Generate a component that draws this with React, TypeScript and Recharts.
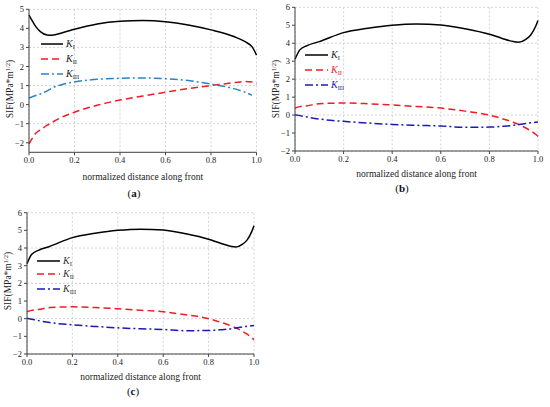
import { LineChart, Line, XAxis, YAxis, CartesianGrid } from "recharts";

// normalized position along the crack front
const xsA = [0, 0.01, 0.03, 0.05, 0.08, 0.1, 0.15, 0.2, 0.3, 0.4, 0.5, 0.6, 0.7, 0.8, 0.9, 0.95, 0.98, 1.0];
const kIA = [4.7, 4.48, 4.09, 3.83, 3.65, 3.64, 3.78, 3.95, 4.23, 4.37, 4.41, 4.35, 4.18, 3.92, 3.57, 3.3, 3.04, 2.6];
const kIIA = [-2.06, -1.85, -1.5, -1.33, -1.08, -0.94, -0.63, -0.4, -0.03, 0.24, 0.45, 0.65, 0.84, 1.0, 1.15, 1.21, 1.19, 1.08];
const kIIIA = [0.35, 0.39, 0.48, 0.56, 0.72, 0.86, 1.07, 1.19, 1.33, 1.38, 1.4, 1.36, 1.26, 1.08, 0.84, 0.65, 0.5, null];

const xsB = [0, 0.02, 0.05, 0.1, 0.2, 0.3, 0.4, 0.5, 0.6, 0.7, 0.8, 0.85, 0.9, 0.92, 0.95, 0.97, 0.99, 1.0];
const kIB = [3.11, 3.63, 3.87, 4.09, 4.59, 4.83, 5.0, 5.07, 5.02, 4.81, 4.5, 4.28, 4.09, 4.06, 4.22, 4.46, 4.93, 5.26];
const kIIB = [0.39, 0.47, 0.52, 0.63, 0.67, 0.63, 0.56, 0.48, 0.39, 0.22, 0.0, -0.19, -0.41, -0.52, -0.72, -0.88, -1.07, -1.19];
const kIIIB = [0.02, -0.03, -0.11, -0.22, -0.35, -0.44, -0.52, -0.57, -0.61, -0.68, -0.67, -0.63, -0.57, -0.53, -0.47, -0.43, -0.4, -0.39];

const xTicks = [0, 0.2, 0.4, 0.6, 0.8, 1.0];
const yTicksA = [-2, -1, 0, 1, 2, 3, 4, 5];
const yTicksB = [-2, -1, 0, 1, 2, 3, 4, 5, 6];

const serif = "Liberation Serif, Times New Roman, DejaVu Serif, serif";

const toRows = (xs: number[], a: (number | null)[], b: (number | null)[], c: (number | null)[]) =>
  xs.map((x, i) => ({ x, kI: a[i], kII: b[i], kIII: c[i] }));

const dataA = toRows(xsA, kIA, kIIA, kIIIA);
const dataB = toRows(xsB, kIB, kIIB, kIIIB);

type PanelProps = {
  left: number;
  top: number;
  width: number;
  height: number;
  margin: { top: number; right: number; bottom: number; left: number };
  yWidth: number;
  domain: [number, number];
  yTicks: number[];
  data: any[];
  colors: string[];
  textColors: string[];
  legend: { x1: number; x2: number; ys: number[] };
  yLabel: { x: number; y: number };
  xLabelY: number;
  caption: { x: number; y: number; letter: string };
};

function Panel(p: PanelProps) {
  const subs = ["I", "II", "III"];
  const dashes = [undefined, "7 4", "8 3 2 3"];
  const keys = ["kI", "kII", "kIII"];
  const plotMid = p.margin.left + p.yWidth + (p.width - p.margin.left - p.yWidth - p.margin.right) / 2;
  const tickStyle = { fill: "#222", fontSize: 8.5, fontFamily: serif, style: { fontFamily: serif } };
  return (
    <div style={{ position: "absolute", left: p.left, top: p.top, width: p.width, height: p.height }}>
      <LineChart width={p.width} height={p.height} data={p.data} margin={p.margin}>
        <CartesianGrid xAxisId="b" yAxisId="l" stroke="#c8c8c8" strokeDasharray="2 2" strokeWidth={0.8} />
        <XAxis
          xAxisId="b"
          dataKey="x"
          type="number"
          domain={[0, 1]}
          ticks={xTicks}
          tickFormatter={(v: number) => v.toFixed(1)}
          height={20}
          tickSize={3}
          tickMargin={2}
          stroke="#444"
          tick={tickStyle}
        />
        <XAxis xAxisId="t" orientation="top" dataKey="x" type="number" domain={[0, 1]} height={0} tick={false} tickLine={false} stroke="#666" />
        <YAxis
          yAxisId="l"
          type="number"
          domain={p.domain}
          ticks={p.yTicks}
          width={p.yWidth}
          tickSize={3}
          tickMargin={2}
          stroke="#444"
          tickFormatter={(v: number) => (v < 0 ? "\u2212" + Math.abs(v) : String(v))}
          tick={tickStyle}
        />
        <YAxis yAxisId="r" orientation="right" type="number" domain={p.domain} width={0} tick={false} tickLine={false} stroke="#666" />
        {keys.map((k, i) => (
          <Line
            key={k}
            xAxisId="b"
            yAxisId="l"
            type="monotone"
            dataKey={k}
            stroke={p.colors[i]}
            strokeWidth={1.5}
            strokeDasharray={dashes[i]}
            dot={false}
            isAnimationActive={false}
          />
        ))}
      </LineChart>
      <svg
        width={p.width}
        height={p.height}
        style={{ position: "absolute", left: 0, top: 0, pointerEvents: "none", overflow: "visible", fontFamily: serif }}
      >
        <text
          transform={`translate(${p.yLabel.x},${p.yLabel.y}) rotate(-90)`}
          textAnchor="middle"
          dominantBaseline="central"
          fontSize={9.5}
          fill="#222"
        >
          SIF(MPa*m<tspan fontSize={6.5} dy={-3.5}>1/2</tspan>
          <tspan dy={3.5}>)</tspan>
        </text>
        <text x={plotMid} y={p.xLabelY} textAnchor="middle" dominantBaseline="central" fontSize={9.5} fill="#222">
          normalized distance along front
        </text>
        <text x={p.caption.x} y={p.caption.y} textAnchor="middle" dominantBaseline="central" fontSize={11} fill="#111">
          (<tspan fontWeight="bold">{p.caption.letter}</tspan>)
        </text>
        {subs.map((s, i) => (
          <g key={s}>
            <line
              x1={p.legend.x1}
              x2={p.legend.x2}
              y1={p.legend.ys[i]}
              y2={p.legend.ys[i]}
              stroke={p.colors[i]}
              strokeWidth={1.5}
              strokeDasharray={dashes[i]}
            />
            <text x={p.legend.x2 + 3} y={p.legend.ys[i] + 3} fontSize={10} fill={p.textColors[i]}>
              <tspan fontStyle="italic">K</tspan>
              <tspan fontSize={6.5} dy={2}>{s}</tspan>
            </text>
          </g>
        ))}
      </svg>
    </div>
  );
}

export default function App() {
  return (
    <div style={{ position: "absolute", left: 0, top: 0, width: 550, height: 407, background: "#fff" }}>
      <Panel
        left={0}
        top={0}
        width={275}
        height={200}
        margin={{ top: 9.3, right: 18.5, bottom: 27.7, left: 0 }}
        yWidth={29}
        domain={[-2.5, 5]}
        yTicks={yTicksA}
        data={dataA}
        colors={["#000", "#ee1c25", "#2a85c8"]}
        textColors={["#222", "#222", "#222"]}
        legend={{ x1: 41, x2: 63, ys: [44, 59, 74] }}
        yLabel={{ x: 10, y: 89 }}
        xLabelY={177}
        caption={{ x: 134, y: 193, letter: "a" }}
      />
      <Panel
        left={275}
        top={0}
        width={275}
        height={200}
        margin={{ top: 7.3, right: 12, bottom: 29, left: 0 }}
        yWidth={20}
        domain={[-2, 6]}
        yTicks={yTicksB}
        data={dataB}
        colors={["#000", "#ee1c25", "#1a1ab8"]}
        textColors={["#222", "#ee1c25", "#1a1ab8"]}
        legend={{ x1: 30, x2: 53, ys: [55, 70, 85] }}
        yLabel={{ x: 1, y: 89 }}
        xLabelY={174}
        caption={{ x: 127, y: 188, letter: "b" }}
      />
      <Panel
        left={0}
        top={200}
        width={275}
        height={207}
        margin={{ top: 12.7, right: 21, bottom: 33, left: 0 }}
        yWidth={27}
        domain={[-2, 6]}
        yTicks={yTicksB}
        data={dataB}
        colors={["#000", "#ee1c25", "#1a1ab8"]}
        textColors={["#333", "#333", "#333"]}
        legend={{ x1: 37, x2: 60, ys: [61, 74, 89] }}
        yLabel={{ x: 8, y: 81 }}
        xLabelY={177}
        caption={{ x: 133, y: 191, letter: "c" }}
      />
    </div>
  );
}
